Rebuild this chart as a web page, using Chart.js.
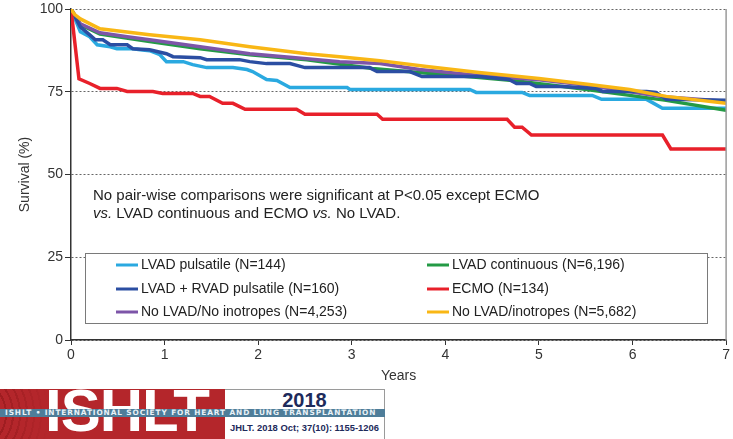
<!DOCTYPE html>
<html>
<head>
<meta charset="utf-8">
<script src="https://cdn.jsdelivr.net/npm/chart.js@4/dist/chart.umd.min.js"></script>
<style>
html, body { margin: 0; padding: 0; background: #fff; }
#wrap { position: relative; width: 733px; height: 439px; overflow: hidden; }
#chart { position: absolute; left: 0; top: 0; }
.logo-red {
    position: absolute; left: 0; top: 389px; width: 225px; height: 50px;
    background: linear-gradient(to right, rgba(180,38,43,0) 0px, #b4262b 48px),
                repeating-radial-gradient(circle at -30px 50%, rgba(90,0,0,0.25) 0 2px, rgba(0,0,0,0) 2px 7px),
                #b4262b;
    overflow: hidden;
}
.logo-letters {
    position: absolute; left: 45px; top: -8px;
    font: bold 60px "Liberation Sans", Arial, sans-serif; line-height: 60px;
    color: #fff; letter-spacing: -1px;
}
.logo-white {
    position: absolute; left: 225px; top: 389px; width: 159px; height: 52px;
    border: 1px solid #9a9a9a; border-left: none; background: #fff;
}
.logo-year {
    position: absolute; left: 0; width: 159px; top: 0px; text-align: center;
    font: bold 20px "Liberation Sans", Arial, sans-serif; line-height: 20px; color: #1d2a5b;
}
.logo-ref {
    position: absolute; left: 0; width: 159px; top: 32px; text-align: center;
    font: bold 9.4px "Liberation Sans", Arial, sans-serif; line-height: 11px; color: #1d2a5b;
}
.logo-band {
    position: absolute; left: 0; top: 409px; width: 385px; height: 8px;
    background: #4e7d99; overflow: hidden; white-space: nowrap;
    font: bold 7.4px "DejaVu Sans", sans-serif; line-height: 8px; letter-spacing: 0.88px;
    color: #e8f1f6; padding-left: 5px; box-sizing: border-box;
}
</style>
</head>
<body>
<div id="wrap">
    <canvas id="chart" width="733" height="439"></canvas>
    <div class="logo-red"><div class="logo-letters">ISHLT</div></div>
    <div class="logo-white">
        <div class="logo-year">2018</div>
        <div class="logo-ref">JHLT. 2018 Oct; 37(10): 1155-1206</div>
    </div>
    <div class="logo-band">ISHLT • INTERNATIONAL SOCIETY FOR HEART AND LUNG TRANSPLANTATION</div>
</div>
<script>
// ── Data (years, % surviving) ──
const seriesNames = [
    'LVAD pulsatile (N=144)',
    'LVAD continuous (N=6,196)',
    'LVAD + RVAD pulsatile (N=160)',
    'ECMO (N=134)',
    'No LVAD/No inotropes (N=4,253)',
    'No LVAD/inotropes (N=5,682)'
];
const seriesColors = ['#2aa9e0', '#239a45', '#2b4ea2', '#e8202a', '#7d55a8', '#f9b715'];

const lvadPulsYears = [0, 0.1, 0.2, 0.28, 0.42, 0.49, 0.66, 0.74, 0.84, 0.95, 1.02, 1.2, 1.3, 1.45, 1.73, 1.88, 1.94, 2.09, 2.2, 2.34, 2.95, 2.98, 4.26, 4.33, 4.82, 4.9, 5.57, 5.67, 6.15, 6.32, 7];
const lvadPulsSurv  = [100, 93.1, 91.6, 89.2, 88.6, 88.0, 88.0, 87.7, 87.4, 86.2, 84.1, 84.1, 83.2, 82.3, 82.3, 81.7, 81.1, 78.7, 78.4, 76.3, 76.3, 75.7, 75.7, 74.8, 74.8, 73.9, 73.9, 72.7, 72.7, 70.0, 70.0];

const lvadContYears = [0, 0.1, 0.31, 0.84, 1.38, 1.91, 2.52, 3.22, 3.59, 4.36, 4.72, 5.43, 5.97, 6.36, 7];
const lvadContSurv  = [100, 95.3, 92.4, 90.2, 88.0, 86.2, 84.7, 82.0, 81.1, 79.3, 78.4, 76.0, 73.9, 72.4, 69.4];

const lvadRvadYears = [0, 0.1, 0.2, 0.26, 0.34, 0.42, 0.6, 0.66, 0.84, 1.02, 1.09, 1.38, 1.45, 1.8, 1.91, 2.09, 2.34, 2.5, 3.19, 3.27, 3.62, 3.75, 4.36, 4.68, 4.76, 4.9, 4.97, 5.25, 5.61, 5.68, 6.15, 6.25, 6.36, 7];
const lvadRvadSurv  = [100, 94.6, 92.2, 90.7, 90.7, 89.2, 89.2, 88.0, 87.7, 86.5, 85.6, 85.3, 84.7, 84.7, 84.1, 83.5, 83.5, 82.3, 82.3, 81.1, 81.1, 79.6, 79.6, 78.7, 77.5, 77.5, 76.6, 76.6, 76.0, 75.1, 75.1, 74.8, 72.7, 72.4];

const ecmoYears = [0, 0.085, 0.2, 0.31, 0.49, 0.6, 0.875, 0.98, 1.3, 1.38, 1.48, 1.62, 1.73, 1.86, 2.41, 2.5, 3.27, 3.33, 4.66, 4.74, 4.82, 4.92, 6.32, 6.41, 7];
const ecmoSurv  = [100, 78.9, 77.5, 76.0, 76.0, 75.1, 75.1, 74.5, 74.5, 73.6, 73.6, 71.5, 71.5, 69.7, 69.7, 68.2, 68.2, 66.7, 66.7, 64.3, 64.3, 61.9, 61.9, 57.7, 57.7];

const noLvadNoInoYears = [0, 0.1, 0.31, 0.6, 0.84, 1.38, 1.91, 2.4, 2.87, 3.3, 3.72, 4.36, 5.0, 5.54, 6.29, 7];
const noLvadNoInoSurv  = [100, 95.5, 92.8, 91.6, 90.7, 88.6, 86.5, 85.3, 84.1, 83.5, 81.7, 79.9, 78.6, 76.9, 73.6, 72.1];

const noLvadInoYears = [0, 0.04, 0.1, 0.31, 0.84, 1.38, 1.91, 2.52, 2.87, 3.3, 3.8, 4.36, 5.0, 5.54, 5.97, 6.36, 7];
const noLvadInoSurv  = [100, 98.3, 97.0, 94.0, 92.2, 90.7, 88.6, 86.5, 85.6, 84.4, 82.6, 80.8, 79.0, 77.2, 75.7, 73.6, 71.5];

const yearTicks = [0, 1, 2, 3, 4, 5, 6, 7];
const survivalTicks = [0, 25, 50, 75, 100];
const noteLine1 = 'No pair-wise comparisons were significant at P<0.05 except ECMO';
const noteLine2 = [['vs.', true], [' LVAD continuous and ECMO ', false], ['vs.', true], [' No LVAD.', false]];

const allYears = [lvadPulsYears, lvadContYears, lvadRvadYears, ecmoYears, noLvadNoInoYears, noLvadInoYears];
const allSurv = [lvadPulsSurv, lvadContSurv, lvadRvadSurv, ecmoSurv, noLvadNoInoSurv, noLvadInoSurv];
const drawOrder = [6, 5, 3, 2, 4, 1]; // lower = drawn on top

const FONT = '"Liberation Sans", Arial, sans-serif';

const datasets = seriesNames.map((name, i) => ({
    label: name,
    data: allYears[i].map((x, j) => ({ x: x, y: allSurv[i][j] })),
    borderColor: seriesColors[i],
    backgroundColor: seriesColors[i],
    borderWidth: 3.5,
    pointRadius: 0,
    tension: 0,
    fill: false,
    order: drawOrder[i]
}));

/* ── in-plot legend, note text and right frame ── */
const overlayPlugin = {
    id: 'overlay',
    afterDatasetsDraw(chart) {
        const ctx = chart.ctx;
        const area = chart.chartArea;
        ctx.save();

        // right frame line
        ctx.strokeStyle = '#9a9a9a';
        ctx.lineWidth = 1.5;
        ctx.beginPath();
        ctx.moveTo(area.right, area.top);
        ctx.lineTo(area.right, area.bottom);
        ctx.stroke();

        // note
        ctx.fillStyle = '#222';
        ctx.textBaseline = 'middle';
        ctx.textAlign = 'left';
        ctx.font = '15px ' + FONT;
        ctx.fillText(noteLine1, 93, 196);
        let x = 93;
        noteLine2.forEach(([txt, ital]) => {
            ctx.font = (ital ? 'italic ' : '') + '15px ' + FONT;
            ctx.fillText(txt, x, 214);
            x += ctx.measureText(txt).width;
        });

        // legend box
        ctx.fillStyle = '#fff';
        ctx.fillRect(85, 253, 622, 70);
        ctx.strokeStyle = '#7a7a7a';
        ctx.lineWidth = 1;
        ctx.strokeRect(85.5, 253.5, 622, 70);

        const cols = [[0, 2, 4], [1, 3, 5]];
        const colX = [116, 427];
        const rowY = [265, 289, 312];
        ctx.font = '14px ' + FONT;
        cols.forEach((col, c) => {
            col.forEach((di, r) => {
                const ds = chart.data.datasets[di];
                ctx.strokeStyle = ds.borderColor;
                ctx.lineWidth = 3;
                ctx.beginPath();
                ctx.moveTo(colX[c], rowY[r]);
                ctx.lineTo(colX[c] + 22, rowY[r]);
                ctx.stroke();
                ctx.fillStyle = '#222';
                ctx.fillText(ds.label, colX[c] + 25, rowY[r]);
            });
        });
        ctx.restore();
    }
};

new Chart(document.getElementById('chart'), {
    type: 'line',
    data: { datasets: datasets },
    options: {
        responsive: false,
        animation: false,
        devicePixelRatio: 1,
        layout: { padding: { left: 0, right: 6, top: 0, bottom: 54 } },
        plugins: {
            legend: { display: false },
            tooltip: { enabled: false }
        },
        scales: {
            x: {
                type: 'linear',
                min: 0,
                max: 7,
                afterFit: (scale) => { scale.height = 45; },
                afterBuildTicks: (scale) => { scale.ticks = yearTicks.map(v => ({ value: v })); },
                grid: { drawOnChartArea: false, drawTicks: true, tickLength: 5, tickColor: '#333', tickWidth: 1 },
                border: { color: '#333', width: 1.5 },
                ticks: { color: '#333', padding: 3, maxRotation: 0, font: { family: FONT, size: 14, lineHeight: 1 } },
                title: { display: true, text: 'Years', color: '#333', padding: { top: 0, bottom: 0 }, font: { family: FONT, size: 14 } }
            },
            y: {
                min: 0,
                max: 100,
                afterFit: (scale) => { scale.width = 71; },
                afterBuildTicks: (scale) => { scale.ticks = survivalTicks.map(v => ({ value: v })); },
                grid: { color: '#666', lineWidth: 1, drawTicks: true, tickLength: 6, tickColor: '#333', tickWidth: 1, tickBorderDash: [] },
                border: { color: '#333', width: 1.5, dash: [2, 2] },
                ticks: { color: '#333', padding: 2, font: { family: FONT, size: 14, lineHeight: 1 } },
                title: { display: true, text: 'Survival (%)', color: '#333', padding: { top: 17, bottom: 0 }, font: { family: FONT, size: 14 } }
            }
        }
    },
    plugins: [overlayPlugin]
});
</script>
</body>
</html>
